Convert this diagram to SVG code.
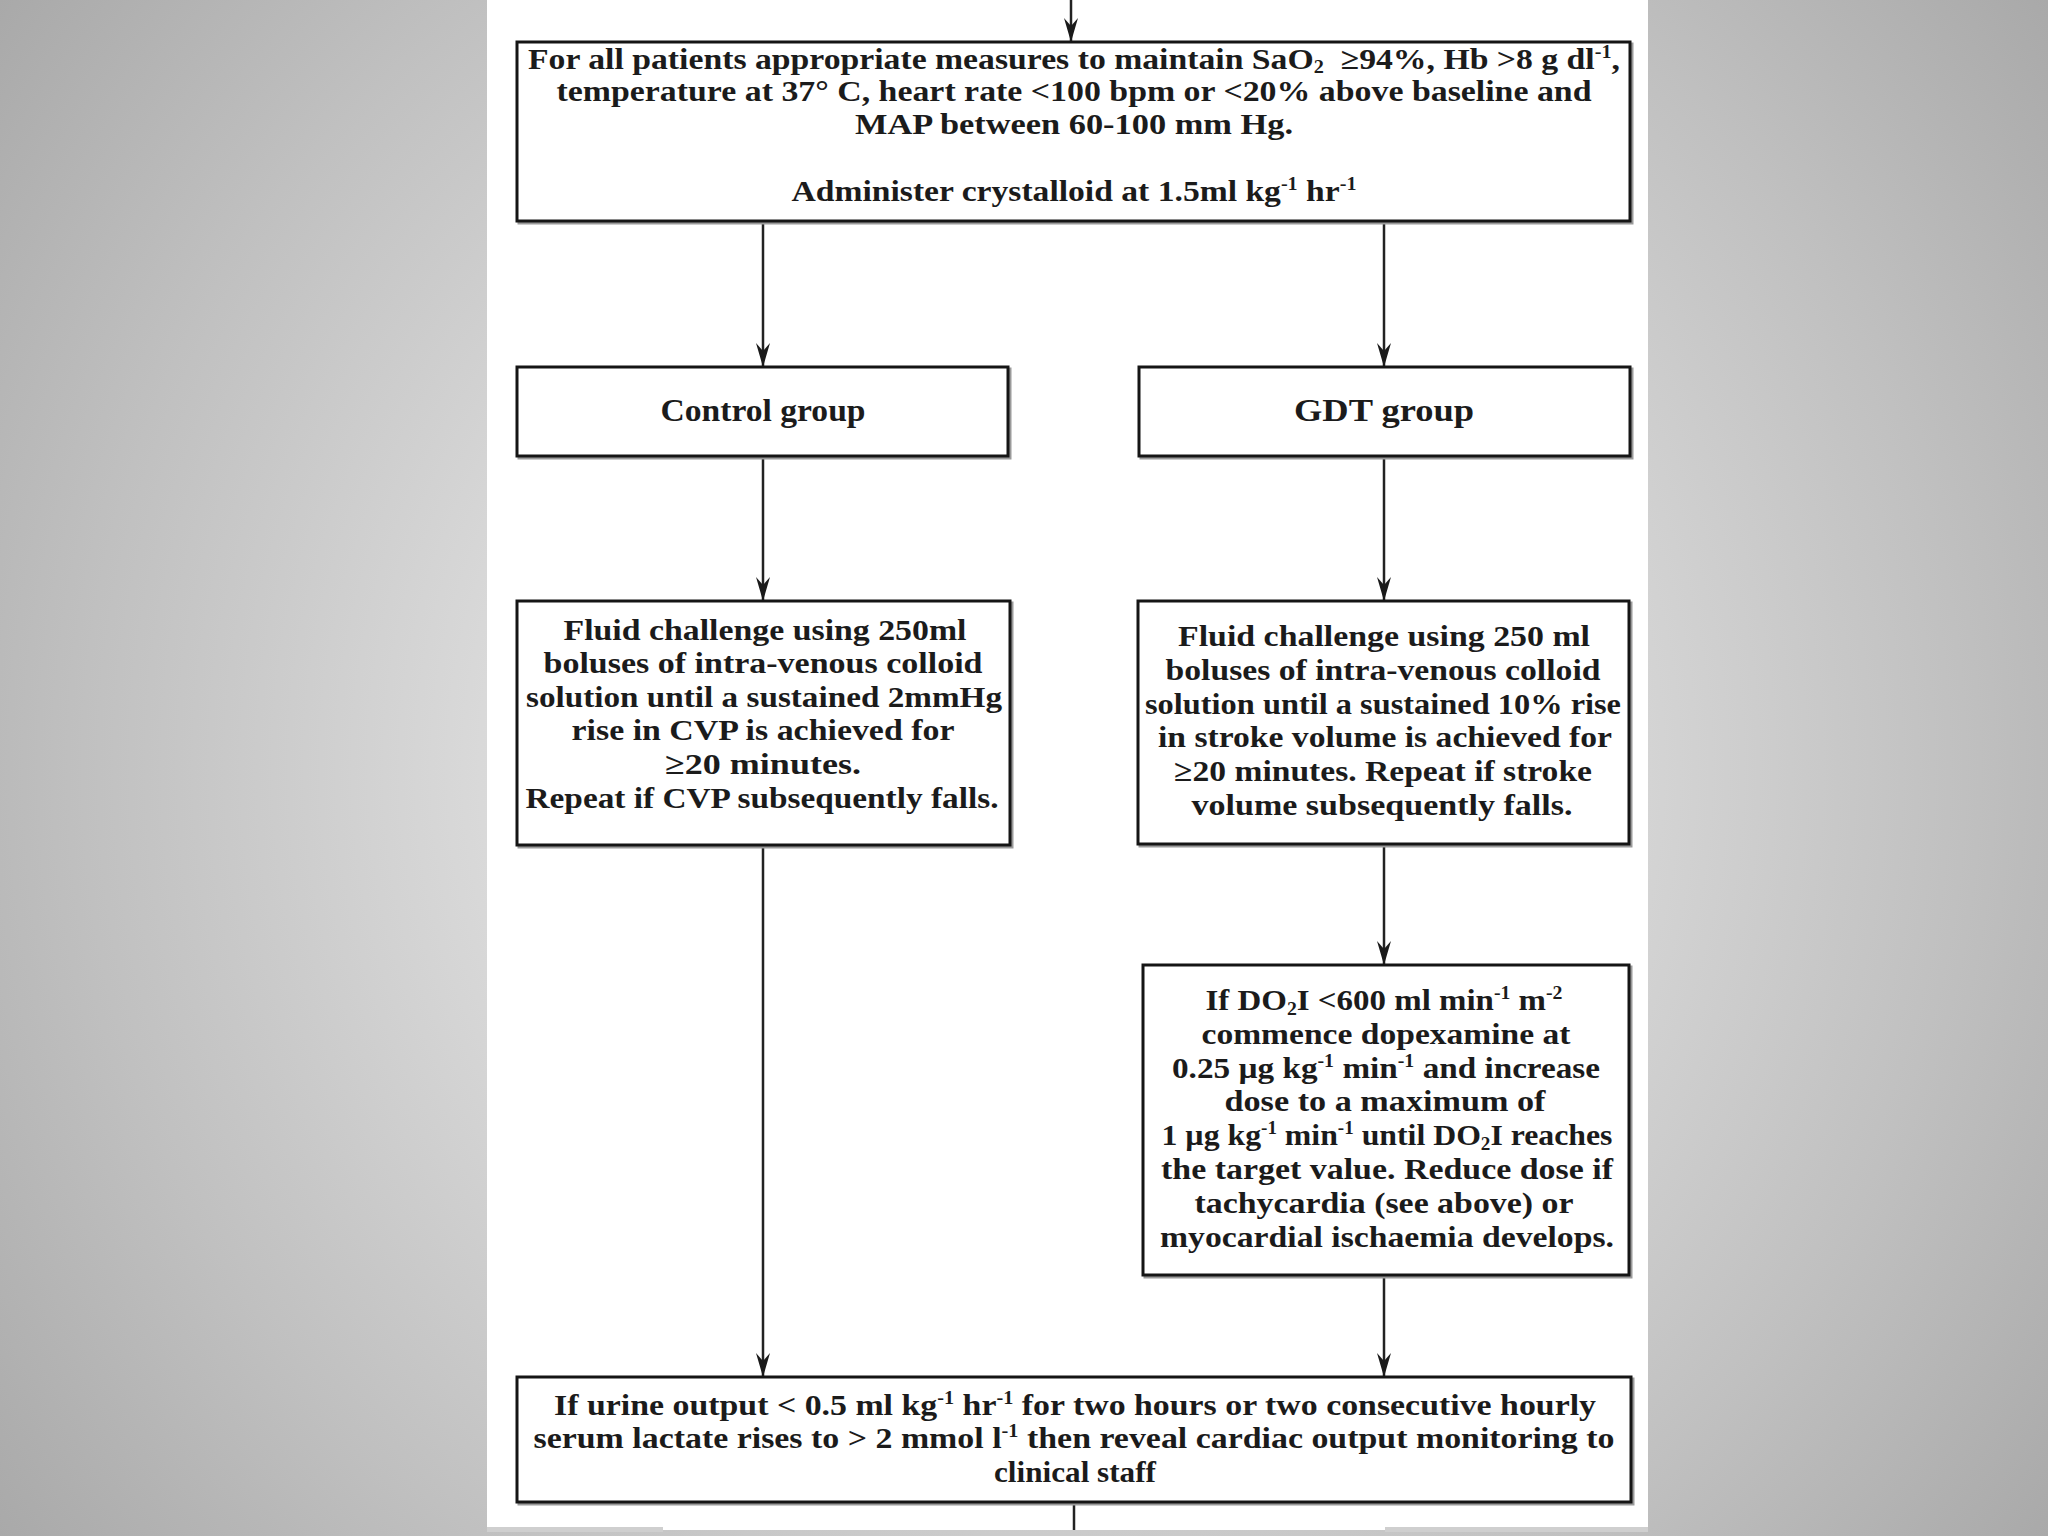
<svg xmlns="http://www.w3.org/2000/svg" width="2048" height="1536" viewBox="0 0 2048 1536">
<defs>
<radialGradient id="bg" gradientUnits="userSpaceOnUse" cx="1024" cy="768" r="1280">
<stop offset="0" stop-color="#f4f4f4"/>
<stop offset="0.425" stop-color="#d9d9d9"/>
<stop offset="0.735" stop-color="#c0c0c0"/>
<stop offset="1" stop-color="#a9a9a9"/>
</radialGradient>
<marker id="arr" markerUnits="userSpaceOnUse" markerWidth="24" markerHeight="14" viewBox="0 0 24 14" refX="24" refY="7" orient="auto">
<path d="M0,0 L24,7 L0,14 L8,7 z" fill="#1a1a1a"/>
</marker>
</defs>
<style>
.box{fill:#fff;stroke:#151515;stroke-width:3}
.sh{fill:none;stroke:#9a9a9a;stroke-width:3}
.t{font-family:"Liberation Serif","Times New Roman",serif;font-weight:bold;font-size:30px;fill:#1b1b1b;text-anchor:middle}
.g{font-size:32px}
.c{fill:none;stroke:#222;stroke-width:2.5}
</style>
<rect x="0" y="0" width="2048" height="1536" fill="url(#bg)"/>
<rect x="487" y="0" width="1161" height="1530" fill="#fff"/>
<rect x="487" y="1527" width="176" height="5" fill="#cfcfcf"/>
<rect x="1385" y="1527" width="263" height="5" fill="#cfcfcf"/>

<g id="connectors">
<line class="c" x1="1071" y1="0" x2="1071" y2="42" marker-end="url(#arr)"/>
<line class="c" x1="763" y1="221" x2="763" y2="367" marker-end="url(#arr)"/>
<line class="c" x1="1384" y1="221" x2="1384" y2="367" marker-end="url(#arr)"/>
<line class="c" x1="763" y1="456" x2="763" y2="601" marker-end="url(#arr)"/>
<line class="c" x1="1384" y1="456" x2="1384" y2="601" marker-end="url(#arr)"/>
<line class="c" x1="763" y1="845" x2="763" y2="1377" marker-end="url(#arr)"/>
<line class="c" x1="1384" y1="844" x2="1384" y2="965" marker-end="url(#arr)"/>
<line class="c" x1="1384" y1="1275" x2="1384" y2="1377" marker-end="url(#arr)"/>
<line class="c" x1="1074" y1="1502" x2="1074" y2="1530"/>
</g>

<g id="start">
<rect class="sh" x="519" y="44" width="1113" height="179"/>
<rect class="box" x="517" y="42" width="1113" height="179"/>
<text class="t" x="1074" y="69" textLength="1092" lengthAdjust="spacingAndGlyphs">For all patients appropriate measures to maintain SaO<tspan font-size="18" dy="4">2</tspan><tspan dy="-4">&#160; ≥94%, Hb &gt;8 g dl</tspan><tspan font-size="18" dy="-11">-1</tspan><tspan dy="11">,</tspan></text>
<text class="t" x="1074" y="101" textLength="1035" lengthAdjust="spacingAndGlyphs">temperature at 37° C, heart rate &lt;100 bpm or &lt;20% above baseline and</text>
<text class="t" x="1074" y="134" textLength="438" lengthAdjust="spacingAndGlyphs">MAP between 60-100 mm Hg.</text>
<text class="t" x="1074" y="201" textLength="565" lengthAdjust="spacingAndGlyphs">Administer crystalloid at 1.5ml kg<tspan font-size="18" dy="-11">-1</tspan><tspan dy="11"> hr</tspan><tspan font-size="18" dy="-11">-1</tspan></text>
</g>

<g id="control">
<rect class="sh" x="519" y="369" width="491" height="89"/>
<rect class="box" x="517" y="367" width="491" height="89"/>
<text class="t g" x="763" y="421" textLength="205" lengthAdjust="spacingAndGlyphs">Control group</text>
</g>

<g id="gdt">
<rect class="sh" x="1141" y="369" width="491" height="89"/>
<rect class="box" x="1139" y="367" width="491" height="89"/>
<text class="t g" x="1384" y="421" textLength="180" lengthAdjust="spacingAndGlyphs">GDT group</text>
</g>

<g id="control-fluid">
<rect class="sh" x="519" y="603" width="493" height="244"/>
<rect class="box" x="517" y="601" width="493" height="244"/>
<text class="t" x="765" y="640" textLength="403" lengthAdjust="spacingAndGlyphs">Fluid challenge using 250ml</text>
<text class="t" x="763" y="673" textLength="439" lengthAdjust="spacingAndGlyphs">boluses of intra-venous colloid</text>
<text class="t" x="764" y="707" textLength="476" lengthAdjust="spacingAndGlyphs">solution until a sustained 2mmHg</text>
<text class="t" x="763" y="740" textLength="383" lengthAdjust="spacingAndGlyphs">rise in CVP is achieved for</text>
<text class="t" x="763" y="774" textLength="196" lengthAdjust="spacingAndGlyphs">≥20 minutes.</text>
<text class="t" x="762" y="808" textLength="473" lengthAdjust="spacingAndGlyphs">Repeat if CVP subsequently falls.</text>
</g>

<g id="gdt-fluid">
<rect class="sh" x="1140" y="603" width="491" height="243"/>
<rect class="box" x="1138" y="601" width="491" height="243"/>
<text class="t" x="1384" y="646" textLength="412" lengthAdjust="spacingAndGlyphs">Fluid challenge using 250 ml</text>
<text class="t" x="1383" y="680" textLength="435" lengthAdjust="spacingAndGlyphs">boluses of intra-venous colloid</text>
<text class="t" x="1383" y="714" textLength="476" lengthAdjust="spacingAndGlyphs">solution until a sustained 10% rise</text>
<text class="t" x="1385" y="747" textLength="454" lengthAdjust="spacingAndGlyphs">in stroke volume is achieved for</text>
<text class="t" x="1383" y="781" textLength="418" lengthAdjust="spacingAndGlyphs">≥20 minutes. Repeat if stroke</text>
<text class="t" x="1382" y="815" textLength="381" lengthAdjust="spacingAndGlyphs">volume subsequently falls.</text>
</g>

<g id="dopexamine">
<rect class="sh" x="1145" y="967" width="486" height="310"/>
<rect class="box" x="1143" y="965" width="486" height="310"/>
<text class="t" x="1384" y="1010" textLength="357" lengthAdjust="spacingAndGlyphs">If DO<tspan font-size="18" dy="5">2</tspan><tspan dy="-5">I &lt;600 ml min</tspan><tspan font-size="18" dy="-11">-1</tspan><tspan dy="11"> m</tspan><tspan font-size="18" dy="-11">-2</tspan></text>
<text class="t" x="1386" y="1044" textLength="369" lengthAdjust="spacingAndGlyphs">commence dopexamine at</text>
<text class="t" x="1386" y="1078" textLength="428" lengthAdjust="spacingAndGlyphs">0.25 µg kg<tspan font-size="18" dy="-11">-1</tspan><tspan dy="11"> min</tspan><tspan font-size="18" dy="-11">-1</tspan><tspan dy="11"> and increase</tspan></text>
<text class="t" x="1385" y="1111" textLength="321" lengthAdjust="spacingAndGlyphs">dose to a maximum of</text>
<text class="t" x="1387" y="1145" textLength="451" lengthAdjust="spacingAndGlyphs">1 µg kg<tspan font-size="18" dy="-11">-1</tspan><tspan dy="11"> min</tspan><tspan font-size="18" dy="-11">-1</tspan><tspan dy="11"> until DO</tspan><tspan font-size="18" dy="5">2</tspan><tspan dy="-5">I reaches</tspan></text>
<text class="t" x="1387" y="1179" textLength="452" lengthAdjust="spacingAndGlyphs">the target value. Reduce dose if</text>
<text class="t" x="1384" y="1213" textLength="379" lengthAdjust="spacingAndGlyphs">tachycardia (see above) or</text>
<text class="t" x="1387" y="1247" textLength="454" lengthAdjust="spacingAndGlyphs">myocardial ischaemia develops.</text>
</g>

<g id="reveal">
<rect class="sh" x="519" y="1379" width="1114" height="125"/>
<rect class="box" x="517" y="1377" width="1114" height="125"/>
<text class="t" x="1075" y="1415" textLength="1042" lengthAdjust="spacingAndGlyphs">If urine output &lt; 0.5 ml kg<tspan font-size="18" dy="-11">-1</tspan><tspan dy="11"> hr</tspan><tspan font-size="18" dy="-11">-1</tspan><tspan dy="11"> for two hours or two consecutive hourly</tspan></text>
<text class="t" x="1074" y="1448" textLength="1081" lengthAdjust="spacingAndGlyphs">serum lactate rises to &gt; 2 mmol l<tspan font-size="18" dy="-11">-1</tspan><tspan dy="11"> then reveal cardiac output monitoring to</tspan></text>
<text class="t" x="1075" y="1482" textLength="162" lengthAdjust="spacingAndGlyphs">clinical staff</text>
</g>
</svg>
